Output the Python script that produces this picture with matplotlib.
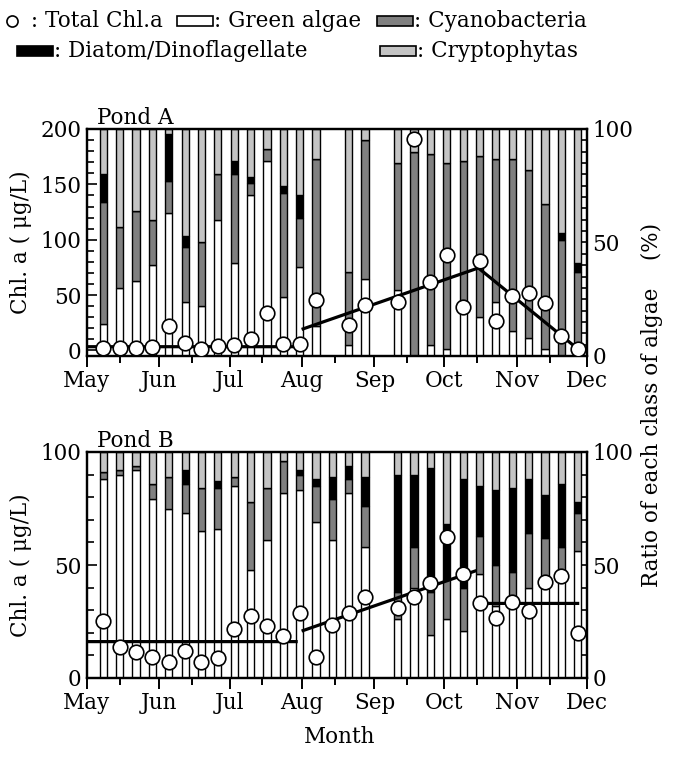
import numpy as np
import matplotlib
matplotlib.use("Agg")
import matplotlib.pyplot as plt
from matplotlib.patches import Rectangle
from matplotlib.ticker import MultipleLocator

plt.rcParams["font.family"] = ["DejaVu Serif"]
plt.rcParams["font.size"] = 15.5

# ── sampling dates (day of year) ──────────────────────────────────────────
dates_a = [128, 135, 142, 149, 156, 163, 170, 177, 184, 191, 198, 205, 212, 219,
           233, 240, 254, 261, 268, 275, 282, 289, 296, 303, 310, 317, 324, 331]
dates_b = [128, 135, 142, 149, 156, 163, 170, 177, 184, 191, 198, 205, 212, 219, 226,
           233, 240, 254, 261, 268, 275, 282, 289, 296, 303, 310, 317, 324, 331]

# ── Pond A ────────────────────────────────────────────────────────────────
chl_a = [2.5, 2.2, 2.2, 3.2, 22, 6.3, 1.7, 4.1, 5.3, 10, 34, 5.8, 5.8, 46,
         23, 41, 44, 191, 62, 86, 39, 81, 27, 49, 52, 43, 13, 1.6]
green_a = [14, 30, 33, 40, 63, 24, 22, 60, 41, 71, 86, 26, 39, 13,
           5, 34, 29, 0, 5, 3, 20, 17, 24, 11, 8, 3, 0, 0]
cyano_a = [54, 27, 31, 20, 14, 24, 28, 20, 39, 5, 5, 46, 22, 74,
           32, 61, 56, 90, 84, 82, 66, 71, 63, 76, 74, 64, 51, 37]
diatom_a = [12, 0, 0, 0, 21, 5, 0, 0, 6, 3, 0, 3, 10, 0,
            0, 0, 0, 0, 0, 0, 0, 0, 0, 0, 0, 0, 3, 4]
# trend line (NaN breaks the line)
trend_a_x = [121, 210.5, np.nan, 213.5, 288.5, 331]
trend_a_y = [3.4, 3.4, np.nan, 19.5, 74.5, 1.5]

# ── Pond B ────────────────────────────────────────────────────────────────
chl_b = [25.2, 13.9, 11.3, 9.5, 7.3, 12, 7.3, 8.8, 21.7, 27.4, 23.2, 18.6, 28.6, 9.1, 23.3,
         28.7, 36, 31.1, 36, 41.9, 62.4, 46, 33.3, 26.7, 33.7, 29.8, 42.6, 45.1, 20.1]
green_b = [88, 90, 92, 79, 75, 73, 65, 66, 85, 48, 61, 82, 83, 69, 61,
           82, 58, 26, 40, 19, 26, 21, 46, 32, 36, 40, 43, 48, 56]
cyano_b = [3, 2, 2, 7, 14, 13, 19, 18, 4, 30, 23, 14, 7, 16, 18,
           6, 18, 12, 18, 19, 18, 19, 17, 18, 11, 24, 19, 10, 17]
diatom_b = [0, 0, 0, 0, 0, 6, 0, 3, 0, 0, 0, 0, 2, 3, 10,
            6, 13, 52, 32, 55, 24, 48, 22, 33, 37, 24, 19, 28, 5]
trend_b_x = [121, 210.5, np.nan, 213.5, 287, np.nan, 289.5, 331]
trend_b_y = [16.1, 16.1, np.nan, 21, 47.3, np.nan, 33, 33]

month_starts = [121, 152, 182, 213, 244, 274, 305, 335]
month_mid = [135, 166, 196, 227, 258, 288, 319]
month_names = ["May", "Jun", "Jul", "Aug", "Sep", "Oct", "Nov", "Dec"]

DARK = "#808080"
LIGHT = "#c4c4c4"

W, H = 683, 776
fig = plt.figure(figsize=(W / 100, H / 100), dpi=100)


def panel(bottom_px, top_px, dates, chl, green, cyano, diatom, tx, ty,
          chl_lim, chl_major, chl_minor, pct_minor, title):
    left, right = 87, 587
    rect = [left / W, 1 - bottom_px / H, (right - left) / W, (bottom_px - top_px) / H]
    axb = fig.add_axes(rect)
    axc = axb.twinx()

    green = np.array(green, float)
    cyano = np.array(cyano, float)
    diatom = np.array(diatom, float)
    crypto = 100 - green - cyano - diatom
    kw = dict(width=3.1, edgecolor="black", linewidth=1.0, zorder=2)
    axb.bar(dates, green, color="white", **kw)
    axb.bar(dates, cyano, bottom=green, color=DARK, **kw)
    axb.bar(dates, diatom, bottom=green + cyano, color="black", **kw)
    axb.bar(dates, crypto, bottom=green + cyano + diatom, color=LIGHT, **kw)

    axc.plot(tx, ty, color="black", lw=2.3, zorder=3)
    axc.plot(dates, chl, "o", ms=10.5, mfc="white", mec="black", mew=1.2, zorder=4)

    axb.set_xlim(121, 335)
    axb.set_ylim(0, 100)
    axc.set_ylim(*chl_lim)

    # % axis on the right, Chl axis on the left
    axb.yaxis.tick_right()
    axc.yaxis.tick_left()
    axb.set_yticks([0, 50, 100])
    axb.yaxis.set_minor_locator(MultipleLocator(pct_minor))
    axc.yaxis.set_major_locator(MultipleLocator(chl_major))
    axc.yaxis.set_minor_locator(MultipleLocator(chl_minor))
    axc.set_ylabel("Chl. a ( μg/L)", labelpad=6)
    axc.yaxis.set_label_position("left")

    axb.set_xticks(month_starts)
    axb.set_xticklabels(month_names)
    axb.set_xticks(month_mid, minor=True)

    for ax in (axb, axc):
        ax.tick_params(axis="y", which="major", direction="in", length=7, width=1.2, pad=4)
        ax.tick_params(axis="y", which="minor", direction="in", length=5, width=1.2)
        for s in ax.spines.values():
            s.set_linewidth(1.6)
    axb.tick_params(axis="x", which="major", direction="out", length=8, width=1.4, pad=2)
    axb.tick_params(axis="x", which="minor", direction="out", length=5, width=1.4)
    axc.tick_params(axis="y", left=True, right=False, labelleft=True, labelright=False,
                    which="both")
    axb.tick_params(axis="y", left=False, right=True, labelleft=False, labelright=True,
                    which="both")

    axb.text(0.02, 1.0, title, transform=axb.transAxes, ha="left", va="bottom")
    return axb, axc


panel(356, 129, dates_a, chl_a, green_a, cyano_a, diatom_a, trend_a_x, trend_a_y,
      (-5, 200), 50, 10, 5, "Pond A")
panel(678, 452, dates_b, chl_b, green_b, cyano_b, diatom_b, trend_b_x, trend_b_y,
      (0, 100), 50, 10, 10, "Pond B")

fig.text(340 / W, 1 - 737 / H, "Month", ha="center", va="center")
fig.text(652 / W, 1 - 405 / H, "Ratio of each class of algae    (%)",
         rotation=90, ha="center", va="center")

# ── legend drawn in pixel space, items laid out one after another ─────────
lg = fig.add_axes([0, 0, 1, 1], zorder=10)
lg.set_xlim(0, W)
lg.set_ylim(H, 0)
lg.axis("off")
renderer = fig.canvas.get_renderer()


def text_end(t):
    bb = t.get_window_extent(renderer)
    return bb.x1  # figure pixels == data x here


lg.plot([12], [21], "o", ms=8, mfc="white", mec="black", mew=1.2)
t = lg.text(24, 21, " : Total Chl.a", va="center", ha="left")
x = max(text_end(t) + 14, 176)
for color, label in [("white", ": Green algae"), (DARK, ": Cyanobacteria")]:
    lg.add_patch(Rectangle((x, 16), 36, 10, facecolor=color, edgecolor="black", lw=1.2))
    t = lg.text(x + 37, 21, label, va="center", ha="left")
    x = text_end(t) + 16

for color, x0, label in [("black", 17, ": Diatom/Dinoflagellate"),
                         (LIGHT, 380, ": Cryptophytas")]:
    lg.add_patch(Rectangle((x0, 46), 36, 10, facecolor=color, edgecolor="black", lw=1.2))
    lg.text(x0 + 37, 51, label, va="center", ha="left")

fig.savefig("out.png", dpi=100)
